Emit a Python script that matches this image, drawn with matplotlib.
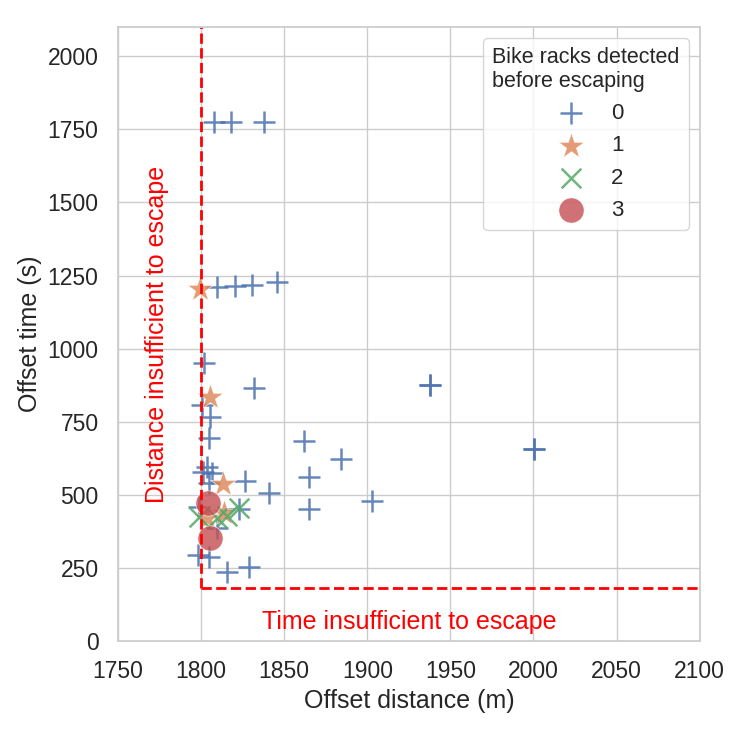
import matplotlib
matplotlib.use("Agg")
import matplotlib.pyplot as plt
import seaborn as sns

sns.set_theme(style="whitegrid", font_scale=1.2)
plt.rcParams["font.family"] = ["Liberation Sans", "DejaVu Sans"]

# racks detected = 0
x0 = [1807.7, 1817.9, 1837.8,
      1809.5, 1820.4, 1830.6, 1845.6,
      1801.7, 1831.8, 1800.5, 1805.3, 1804.7,
      1803.5, 1801.0, 1806.5, 1805.0, 1826.5, 1799.0, 1823.0, 1809.5,
      1798.0, 1805.0, 1815.5, 1829.0,
      1861.8, 1884.0, 1865.0, 1840.8, 1865.0, 1902.7,
      1937.6, 1937.6, 2000.5, 2000.5]
y0 = [1774, 1774, 1776,
      1210, 1214, 1217, 1227,
      950, 865, 807, 766, 694,
      595, 578, 574, 540, 547, 458, 450, 386,
      294, 287, 236, 253,
      684, 622, 561, 506, 451, 479,
      875, 875, 656, 656]
# racks detected = 1
x1 = [1799.3, 1805.3, 1813.0, 1803.5, 1814.0]
y1 = [1203, 834, 538, 420, 437]
# racks detected = 2
x2 = [1799.0, 1809.5, 1815.5, 1823.0]
y2 = [424, 420, 426, 455]
# racks detected = 3
x3 = [1804.0, 1805.5]
y3 = [473, 351]

pal = sns.color_palette("deep")

fig = plt.figure(figsize=(7.42, 7.29), dpi=100)
ax = fig.add_axes([0.159, 0.1207, 0.784, 0.8423])

ax.scatter(x0, y0, marker="+", s=230, color=pal[0], linewidths=1.8, alpha=0.85, label="0")
ax.scatter(x1, y1, marker="*", s=380, color=pal[1], edgecolors="white", linewidths=0.5, alpha=0.8, label="1")
ax.scatter(x2, y2, marker="x", s=200, color=pal[2], linewidths=1.8, alpha=0.85, label="2")
ax.scatter(x3, y3, marker="o", s=330, color=pal[3], edgecolors="white", linewidths=0.5, alpha=0.8, label="3")

# escape limits
ax.plot([1800, 1800], [180, 2100], "--", color="red", lw=2)
ax.plot([1800, 2100], [180, 180], "--", color="red", lw=2)
ax.text(1773.5, 1050, "Distance insufficient to escape", color="red", rotation=90,
        ha="center", va="center", fontsize=18)
ax.text(1925, 65, "Time insufficient to escape", color="red",
        ha="center", va="center", fontsize=18)

ax.set_xlim(1750, 2100)
ax.set_ylim(0, 2100)
ax.set_xticks(range(1750, 2101, 50))
ax.set_yticks(range(0, 2001, 250))
ax.tick_params(labelsize=16.5, pad=8)
ax.set_xlabel("Offset distance (m)", fontsize=18)
ax.set_ylabel("Offset time (s)", fontsize=18)

leg = ax.legend(title="Bike racks detected\nbefore escaping", loc="upper right",
                fontsize=16, title_fontsize=15.5)
leg.get_title().set_multialignment("left")

fig.savefig("out.png", dpi=100)
